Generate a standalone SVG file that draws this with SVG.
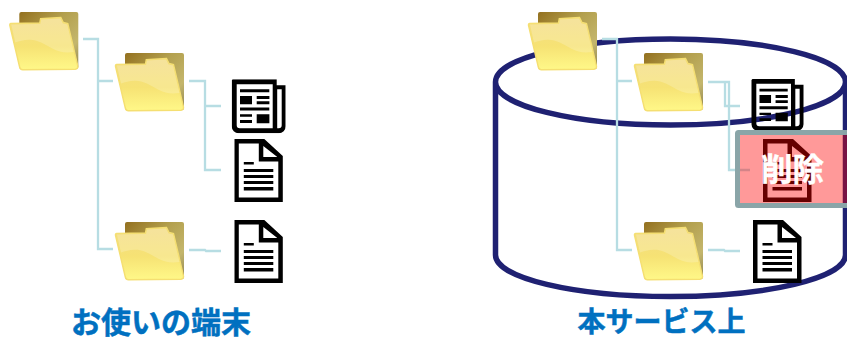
<svg xmlns="http://www.w3.org/2000/svg" width="847" height="337" viewBox="0 0 847 337">
<style>
.cn{fill:none;stroke:#b7dde3;stroke-width:2.3}
.cap{font-family:"Noto Sans CJK JP","Noto Sans",sans-serif;font-weight:700;fill:#0070c0;stroke:#0070c0;stroke-width:.5;text-anchor:middle}
.del{font-family:"Noto Sans CJK JP","Noto Sans",sans-serif;font-weight:700;font-size:31.5px;fill:#fff;stroke:#fff;stroke-width:.4;text-anchor:middle}
</style>
<defs>
<linearGradient id="fb" x1="0" y1="0" x2="1" y2="1"><stop offset="0" stop-color="#93701f"/><stop offset=".4" stop-color="#b3a04e"/><stop offset=".75" stop-color="#c4b66c"/><stop offset="1" stop-color="#8f8450"/></linearGradient>
<linearGradient id="ff" x1="0" y1="0" x2="0" y2="1"><stop offset="0" stop-color="#f3dc84"/><stop offset=".55" stop-color="#f6e274"/><stop offset="1" stop-color="#fff888"/></linearGradient>
<symbol id="folder" width="70" height="60" viewBox="0 0 70 60" overflow="visible">
<path d="M10,2a2,2 0 0 1 2,-2H67a2,2 0 0 1 2,2V55a2,2 0 0 1 -2,2H12a2,2 0 0 1 -2,-2Z" fill="url(#fb)"/>
<path d="M1.5,11.5L30.5,11L31.3,6.7L51.5,5.5L54,10.5L58.5,11.5L68.5,54Q68.8,57 66,57.2L13.5,57.7Q11,57.7 10.3,55L.5,13.5Q.3,11.5 1.5,11.5Z" fill="url(#ff)" stroke="#f5df72" stroke-width="1.4"/>
<path d="M2,12.5L31,12L32,7.5L51,6.5L53.5,11.5L58,12.5L64.5,40C55,41 50,40 44,37C35,32 28,27.5 20,27.7C14,28 10,29 6,30.5Z" fill="#fff" opacity=".2"/>
</symbol>
<symbol id="doc" width="49" height="63" viewBox="0 0 49 63">
<path fill-rule="evenodd" d="M0,0H30L48.5,17V63H0ZM4.5,4.5V58.5H44V22.5H24.5V4.5ZM29,7V18H43Z"/>
<path d="M9.5,23h10v2.5h-10ZM9.5,30h29.5v3H9.5ZM9.5,36h29.5v3H9.5ZM9.5,42h29.5v3H9.5ZM9.5,48h29.5v3.5H9.5Z"/>
</symbol>
<symbol id="news" width="54" height="54" viewBox="0 0 54 54">
<path fill-rule="evenodd" d="M1,0H45V6H54V47a7,7 0 0 1 -7,7H7a7,7 0 0 1 -7,-7V1ZM5,5V46a3,3 0 0 0 3,3H41V5ZM45.5,10V49H47a3,3 0 0 0 3,-3V10Z"/>
<path d="M8.3,10h29.3v3H8.3ZM8.3,16.7h12v8.3h-12ZM25,16.7h12.7v3H25ZM25,22h12.7v3H25ZM8.3,28.3h29.3v3H8.3ZM8.3,35h12v2.5h-12ZM8.3,40.7h12v3h-12ZM25,35h12.7v9H25Z"/>
</symbol>
</defs>
<g id="cylinder"><path d="M495.5,82A175,43 0 0 1 845.5,82A175,43 0 0 1 495.5,82V255A175,41.5 0 0 0 845.5,255V82" fill="none" stroke="#1f2172" stroke-width="5.5"/></g>
<g id="connectors">
<path class="cn" d="M83,39H98V249H113M98,81H113"/>
<path class="cn" d="M189,81H205V170H221M205,106H221"/>
<path class="cn" d="M189,250H205L206,251H221"/>
<path class="cn" d="M602,39H617V250H632M617,81H632"/>
<path class="cn" d="M708,82H729V170H750M725,82V106H740"/>
<path class="cn" d="M708,250H724L725,251H740"/>
</g>
<g id="folder-l1"><use href="#folder" x="9.3" y="12"/></g>
<g id="folder-l2"><use href="#folder" x="115" y="53"/></g>
<g id="folder-l3"><use href="#folder" x="115" y="222"/></g>
<g id="news-l"><use href="#news" x="231.7" y="79.3"/></g>
<g id="doc-l1"><use href="#doc" x="234.3" y="139"/></g>
<g id="doc-l2"><use href="#doc" x="234.3" y="220"/></g>
<g id="folder-r1"><use href="#folder" x="528" y="12"/></g>
<g id="folder-r2"><use href="#folder" x="634" y="53"/></g>
<g id="folder-r3"><use href="#folder" x="634" y="222"/></g>
<g id="news-r"><use href="#news" x="751" y="79" width="53" height="52"/></g>
<g id="doc-r1"><use href="#doc" x="763" y="139"/></g>
<g id="doc-r2"><use href="#doc" x="753" y="220"/></g>
<g id="delete-box">
<rect x="737.5" y="132.5" width="120" height="73" rx="1" fill="#f00" fill-opacity=".4" stroke="#8aa5a8" stroke-width="5"/>
<text class="del" x="792.5" y="181">削除</text>
</g>
<g id="caption-left"><text class="cap" font-size="30" x="161" y="333">お使いの端末</text></g>
<g id="caption-right"><text class="cap" font-size="28" x="661.5" y="332">本サービス上</text></g>
</svg>
